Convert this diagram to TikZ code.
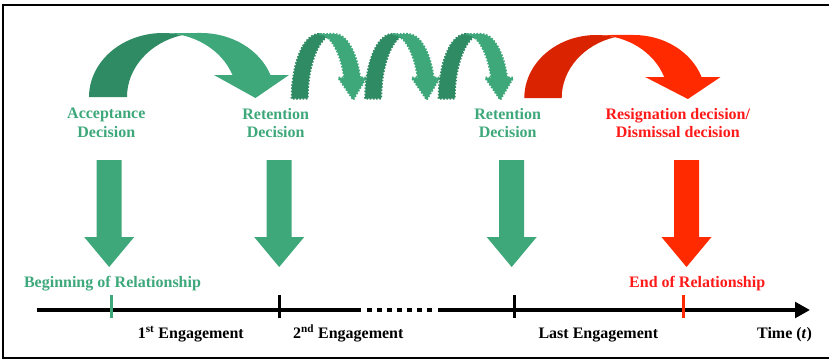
\documentclass[tikz,border=0pt]{standalone}
\usepackage{fontspec}
\setmainfont{Liberation Serif}
\usetikzlibrary{arrows.meta}
\definecolor{gl}{HTML}{3EA87B}
\definecolor{gd}{HTML}{2F8B63}
\definecolor{rl}{HTML}{FF2A00}
\definecolor{rd}{HTML}{DA2300}
\definecolor{rt}{HTML}{FF1A1A}
\tikzset{
  lbl/.style={inner sep=0pt, font=\bfseries\fontsize{16}{18.5}\selectfont},
  cvedge/.style={draw=none},
  tline/.style={line width=4.7pt},
  tick/.style={line width=3pt},
}
% #1 cx, #2 footY, #3 a, #4 b, #5 w, #6 head height, #7 wing, #8 tip dx, #9 colour prefix
\newcommand{\cvarrow}[9]{%
  \pgfmathsetmacro{\cvA}{acos((#5/2)/#3)}%
  \pgfmathsetmacro{\cvB}{180-\cvA}%
  \pgfmathsetmacro{\cvT}{asin(#6/#4)}%
  \pgfmathsetmacro{\cvX}{#3*cos(\cvT)}%
  \filldraw[fill=#9d, draw=#9d, cvedge] (#1-#3,#2)
     arc[start angle=180, end angle=\cvA, x radius=#3pt, y radius=#4pt]
     arc[start angle=\cvB, end angle=180, x radius=#3pt, y radius=#4pt] -- cycle;
  \filldraw[fill=#9l, draw=#9l, cvedge] (#1+#5+\cvX,#2+#6)
     arc[start angle=\cvT, end angle=90, x radius=#3pt, y radius=#4pt]
     -- (#1,#2+#4)
     arc[start angle=90, end angle=\cvT, x radius=#3pt, y radius=#4pt]
     -- (#1+\cvX-#7,#2+#6) -- (#1+#5/2+\cvX+#8,#2-1) -- (#1+#5+\cvX+#7,#2+#6) -- cycle;
}
\newcommand{\dnarrow}[2]{%
  \fill[#2] (#1-12.5,200) -- (#1+12.5,200) -- (#1+12.5,123) -- (#1+25,123)
     -- (#1,93) -- (#1-25,123) -- (#1-12.5,123) -- cycle;
}
\begin{document}
\begin{tikzpicture}[x=1pt,y=1pt]
\useasboundingbox (0,0) rectangle (829,360);
% frame
\draw[line width=1.4pt, line join=miter] (829,355) -- (3,355) -- (3,2) -- (829,2);

% big curved arrows
\cvarrow{163}{263}{74}{64}{38}{22}{18.5}{4}{g}
\cvarrow{596.3}{262}{72}{63}{37.4}{21}{19}{5}{r}
% small jagged arrows
\begin{scope}[cvedge/.style={line width=2pt, dash pattern=on 1.6pt off 1.6pt}]
\cvarrow{318.7}{261.3}{27}{64.7}{16}{21}{6}{1}{g}
\cvarrow{392.2}{261.3}{27}{64.7}{16}{21}{6}{1}{g}
\cvarrow{465.7}{261.3}{27}{64.7}{16}{21}{6}{1}{g}
\end{scope}

% decision labels
\node[lbl, text=gl, align=center] (acc) at (106.3,237) {Acceptance\\Decision};
\node[lbl, text=gl, align=center] (ret1) at (275.7,237) {Retention\\Decision};
\node[lbl, text=gl, align=center] (ret2) at (507.7,237) {Retention\\Decision};
\node[lbl, text=rt, align=center] (res) at (677.8,237) {Resignation decision/\\Dismissal decision};

% down arrows
\dnarrow{109.2}{gl}
\dnarrow{279.2}{gl}
\dnarrow{511.7}{gl}
\dnarrow{686.5}{rl}

% timeline
\coordinate (t0) at (36.7,50);
\coordinate (d1) at (361,50);
\coordinate (d2) at (367,50);
\coordinate (d3) at (434,50);
\coordinate (d4) at (438,50);
\coordinate (t1) at (810,50);
\draw[tline] (t0) -- (d1);
\draw[tline, dash pattern=on 5pt off 5pt] (d2) -- (d3);
\draw[tline, -{Triangle[length=15pt,width=15.5pt]}] (d4) -- (t1);

% ticks
\draw[tick, gl] (111,65) -- (111,42);
\draw[tick] (279,65) -- (279,42);
\draw[tick] (514,65) -- (514,42);
\draw[tick, rl] (683,65) -- (683,42);

% timeline labels
\node[lbl, text=gl, anchor=base] (begin) at (112.5,73) {Beginning of Relationship};
\node[lbl, text=rt, anchor=base] (endrel) at (697.2,73) {End of Relationship};
\node[lbl, anchor=base] (e1) at (190.8,21.5) {1\textsuperscript{st} Engagement};
\node[lbl, anchor=base] (e2) at (348.3,21.5) {2\textsuperscript{nd} Engagement};
\node[lbl, anchor=base] (elast) at (598.3,21.5) {Last Engagement};
\node[lbl, anchor=base] (time) at (784.5,21.5) {Time (\textit{t})};
\end{tikzpicture}
\end{document}
